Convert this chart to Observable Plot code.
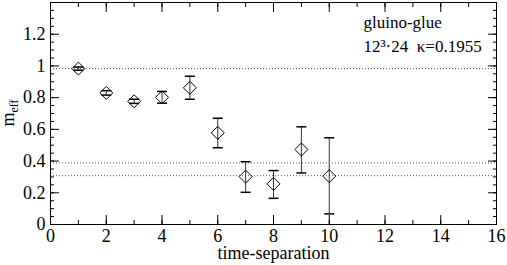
<!DOCTYPE html>
<html><head><meta charset="utf-8">
<script src="https://cdn.jsdelivr.net/npm/d3@7"></script>
<script src="https://cdn.jsdelivr.net/npm/@observablehq/plot@0.6"></script>
<style>
body{margin:0;background:#fff}
#chart svg, #chart svg text{font-family:'Liberation Serif','Times New Roman',serif !important;}
</style>
</head><body><div id="chart"></div>
<script>
// ---- data ----
const timeSep = [1, 2, 3, 4, 5, 6, 7, 8, 9, 10];
const mEff    = [0.983, 0.830, 0.777, 0.802, 0.862, 0.578, 0.302, 0.256, 0.473, 0.305];
const errLo   = [0.973, 0.816, 0.764, 0.765, 0.790, 0.484, 0.203, 0.165, 0.325, 0.067];
const errHi   = [0.993, 0.844, 0.790, 0.839, 0.935, 0.670, 0.396, 0.340, 0.616, 0.547];
const refLines = [0.983, 0.388, 0.308];
const xTickLabels = [0, 2, 4, 6, 8, 10, 12, 14, 16];
const yTickLabels = [0, 0.2, 0.4, 0.6, 0.8, 1, 1.2];
const yMajorTicks = [0, 0.2, 0.4, 0.6, 0.8, 1, 1.2, 1.4];
const xMinorTicks = d3.range(0, 17, 1);
const yMinorTicks = d3.range(0, 1.401, 0.05);
const annotLine1 = "gluino-glue";
const annotLine2 = "12\u00b3\u00b724\u00a0\u00a0\u03ba=0.1955";
const xLabel = "time-separation";
const yLabelMain = "m", yLabelSub = "eff";

const rows = timeSep.map((t, i) => ({t, m: mEff[i], lo: errLo[i], hi: errHi[i]}));

const diamond = {draw(ctx, size) { const r = Math.sqrt(size / Math.PI);
  ctx.moveTo(0, -r); ctx.lineTo(r, 0); ctx.lineTo(0, r); ctx.lineTo(-r, 0); ctx.closePath(); }};
const cap = {draw(ctx, size) { const r = Math.sqrt(size / Math.PI);
  ctx.moveTo(-r, 0); ctx.lineTo(r, 0); }};

const W = 507, H = 265, mL = 50, mR = 11, mT = 2, mB = 41;
const FS = 18;
const FF = "'Liberation Serif', 'Times New Roman', serif";

const plot = Plot.plot({
  width: W, height: H,
  marginLeft: mL, marginRight: mR, marginTop: mT, marginBottom: mB,
  style: {fontFamily: FF, fontSize: FS + "px", background: "#fff", color: "#000"},
  x: {domain: [0, 16]},
  y: {domain: [0, 1.4]},
  marks: [
    Plot.ruleY(refLines, {stroke: "#555", strokeWidth: 1, strokeDasharray: "1,2"}),
    // ticks (inward)
    Plot.axisX({anchor: "bottom", ticks: xTickLabels, tickSize: -9, text: null, label: null}),
    Plot.axisX({anchor: "bottom", ticks: xMinorTicks, tickSize: -4, text: null, label: null}),
    Plot.axisX({anchor: "top", ticks: xTickLabels, tickSize: -9, text: null, label: null}),
    Plot.axisX({anchor: "top", ticks: xMinorTicks, tickSize: -4, text: null, label: null}),
    Plot.axisY({anchor: "left", ticks: yMajorTicks, tickSize: -9, text: null, label: null}),
    Plot.axisY({anchor: "left", ticks: yMinorTicks, tickSize: -4, text: null, label: null}),
    Plot.axisY({anchor: "right", ticks: yMajorTicks, tickSize: -9, text: null, label: null}),
    Plot.axisY({anchor: "right", ticks: yMinorTicks, tickSize: -4, text: null, label: null}),
    // tick labels
    Plot.axisX({anchor: "bottom", ticks: xTickLabels, tickSize: 0, tickPadding: 5, tickFormat: d => String(d), label: null, fontSize: FS, fontFamily: FF, fontVariant: "normal"}),
    Plot.axisY({anchor: "left", ticks: yTickLabels, tickSize: 0, tickPadding: 5, tickFormat: d => String(d), label: null, fontSize: FS, fontFamily: FF, fontVariant: "normal"}),
    Plot.frame({stroke: "#000", strokeWidth: 1}),
    // error bars
    Plot.ruleX(rows, {x: "t", y1: "lo", y2: "hi", stroke: "#333", strokeWidth: 1}),
    Plot.dot(rows, {x: "t", y: "lo", symbol: cap, r: 5, stroke: "#000", fill: "none"}),
    Plot.dot(rows, {x: "t", y: "hi", symbol: cap, r: 5, stroke: "#000", fill: "none"}),
    // points
    Plot.dot(rows, {x: "t", y: "m", symbol: diamond, r: 6.5, stroke: "#000", fill: "none", strokeWidth: 1}),
    // annotation
    Plot.text([annotLine1], {frameAnchor: "top-left", dx: 313, dy: 25, text: d => d, textAnchor: "start", lineAnchor: "bottom", fontSize: 17, fontFamily: FF}),
    Plot.text([annotLine2], {frameAnchor: "top-left", dx: 313, dy: 49, text: d => d, textAnchor: "start", lineAnchor: "bottom", fontSize: 17, fontFamily: FF}),
    Plot.text([xLabel], {frameAnchor: "bottom", dy: 34, text: d => d, lineAnchor: "bottom", fontSize: FS, fontFamily: FF})
  ]
});
document.getElementById("chart").appendChild(plot);

// y-axis label with subscript
const svg = d3.select(plot);
const yl = svg.append("text")
  .attr("transform", `translate(14,${mT + (H - mT - mB) / 2}) rotate(-90)`)
  .attr("text-anchor", "middle")
  .attr("font-size", FS)
  .attr("font-family", FF)
  .attr("fill", "#000");
yl.append("tspan").text(yLabelMain);
yl.append("tspan").attr("font-size", 12).attr("dy", 4).text(yLabelSub);
</script>
</body></html>
